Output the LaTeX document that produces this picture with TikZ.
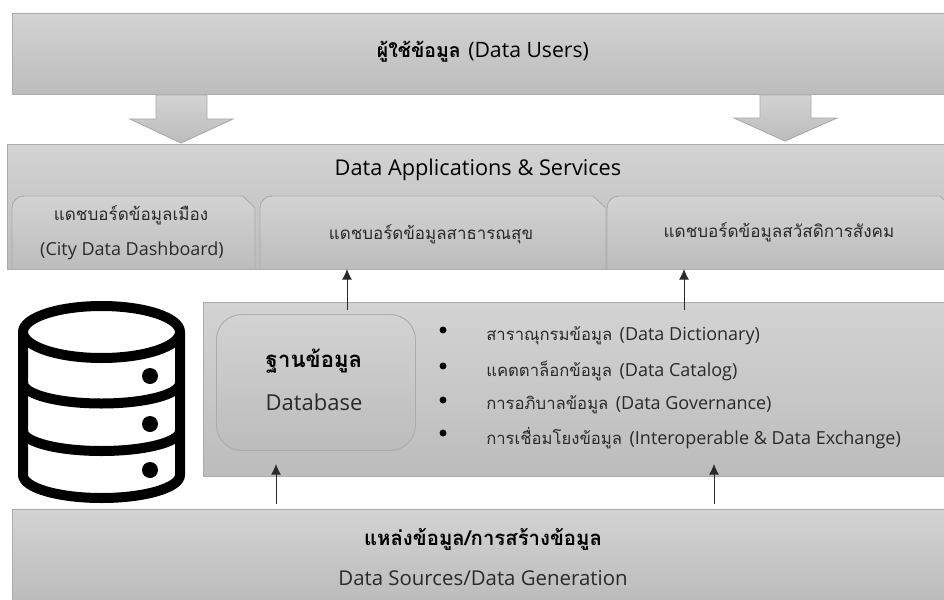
\documentclass[tikz,border=0pt]{standalone}
\usepackage{fontspec}
\setmainfont{Open Sans}
\newfontfamily\tf[Script=Thai]{Loma}
\usetikzlibrary{arrows.meta}
\definecolor{gtop}{HTML}{D3D3D3}
\definecolor{gbot}{HTML}{BCBCBC}
\definecolor{edge}{HTML}{ABABAB}
\definecolor{ink}{HTML}{2A2A2A}
\newcommand{\sz}[1]{\fontsize{#1}{#1}\selectfont}
\tikzset{
  x=0.75pt,y=-0.75pt,
  panel/.style={draw=edge,line width=0.7pt,top color=gtop,bottom color=gbot},
  box/.style={panel,rectangle,inner sep=0pt,anchor=north west},
  label/.style={text=ink,inner sep=0pt,align=center},
  head/.style={text=black,inner sep=0pt},
  itemtext/.style={text=ink,inner sep=0pt,anchor=west},
  bulletdot/.style={circle,fill=black,draw=none,minimum size=5.2pt,inner sep=0pt},
  link/.style={draw=ink,line width=0.7pt,-{Latex[length=8pt,width=7.5pt]}},
  iconline/.style={draw=black,line width=7.5pt,line join=round},
}
\begin{document}
\begin{tikzpicture}
\useasboundingbox (0,0) rectangle (944,599);
% top
\node[box,minimum width=933*0.75pt,minimum height=81*0.75pt] (users) at (12,13) {};
\node[head] (userstext) at (483,52) {{\tf\bfseries\sz{14.6}ผู้ใช้ข้อมูล}\hspace{3pt} \sz{15.9}(Data Users)};
% block arrows
\draw[panel] (156,95) -- (207,95) -- (207,119) -- (233,119) -- (181,143) -- (130,119) -- (156,119) -- cycle;
\draw[panel] (760,95) -- (811,95) -- (811,118) -- (837,118) -- (785,141) -- (734,118) -- (760,118) -- cycle;
% apps
\node[box,minimum width=938*0.75pt,minimum height=125*0.75pt] (apps) at (7,144) {};
\node[head,font=\sz{16.3}] (appstext) at (478,170) {Data Applications \& Services};
\draw[panel] (12,269) -- (12,208) arc[start angle=180,end angle=270,x radius=12,y radius=12] -- (243,196) -- (255,208) -- (255,269);
\draw[panel] (260,269) -- (260,208) arc[start angle=180,end angle=270,x radius=12,y radius=12] -- (593,196) -- (606,208) -- (606,269);
\draw[panel] (607,269) -- (607,208) arc[start angle=180,end angle=270,x radius=12,y radius=12] -- (940,196) -- (946,202) -- (946,269);
\node[label,font=\sz{12.8}] (dash1a) at (131,215) {{\tf แดชบอร์ดข้อมูลเมือง}};
\node[label,font=\sz{13.5}] (dash1b) at (132,251) {(City Data Dashboard)};
\node[label,font=\sz{12.7}] (dash2) at (431,234) {{\tf แดชบอร์ดข้อมูลสาธารณสุข}};
\node[label,font=\sz{12.8}] (dash3) at (779,232) {{\tf แดชบอร์ดข้อมูลสวัสดิการสังคม}};
% middle
\node[box,minimum width=742*0.75pt,minimum height=174*0.75pt] (mid) at (203,302) {};
\node[box,rounded corners=19pt,minimum width=199*0.75pt,minimum height=136*0.75pt] (db) at (216,314) {};
\node[head,font=\sz{16.6}] (dbth) at (314,361) {{\tf\bfseries ฐานข้อมูล}};
\node[label,font=\sz{16.5}] (dben) at (314,402) {Database};
\node[bulletdot] (b1) at (443,330) {};
\node[bulletdot] (b2) at (443,366) {};
\node[bulletdot] (b3) at (443,400) {};
\node[bulletdot] (b4) at (443,433) {};
\node[itemtext] (i1) at (486,336) {{\tf\sz{12.5}สาราณุกรมข้อมูล}\hspace{3pt} \sz{13.5}(Data Dictionary)};
\node[itemtext] (i2) at (486,371) {{\tf\sz{12.5}แคตตาล็อกข้อมูล}\hspace{3pt} \sz{13.5}(Data Catalog)};
\node[itemtext] (i3) at (486,405) {{\tf\sz{12.5}การอภิบาลข้อมูล}\hspace{3pt} \sz{13.5}(Data Governance)};
\node[itemtext] (i4) at (486,438) {{\tf\sz{12.5}การเชื่อมโยงข้อมูล}\hspace{3pt} \sz{13.5}(Interoperable \& Data Exchange)};
% bottom
\node[box,minimum width=933*0.75pt,minimum height=91*0.75pt] (src) at (12,509) {};
\node[head,font=\sz{15.25}] (srcth) at (483,539) {{\tf\bfseries แหล่งข้อมูล/การสร้างข้อมูล}};
\node[label,font=\sz{15.3}] (srcen) at (483,578) {Data Sources/Data Generation};
% connectors
\coordinate (c1s) at (347,310); \coordinate (c1e) at (347,269);
\coordinate (c2s) at (684,310); \coordinate (c2e) at (684,269);
\coordinate (c3s) at (276,504); \coordinate (c3e) at (276,464);
\coordinate (c4s) at (714,504); \coordinate (c4e) at (714,464);
\draw[link] (c1s) -- (c1e);
\draw[link] (c2s) -- (c2e);
\draw[link] (c3s) -- (c3e);
\draw[link] (c4s) -- (c4e);
% database icon
\draw[iconline,fill=white] (23,332) -- (23,475) arc[start angle=180,end angle=0,x radius=78.5,y radius=23] -- (180,332);
\draw[iconline] (23,383) arc[start angle=180,end angle=0,x radius=78.5,y radius=20.5];
\draw[iconline] (23,431) arc[start angle=180,end angle=0,x radius=78.5,y radius=20];
\draw[iconline,fill=white] (101.5,332) ellipse[x radius=78.5,y radius=26];
\fill (150,376) circle[radius=8];
\fill (150,424) circle[radius=8];
\fill (150,470) circle[radius=8];
\end{tikzpicture}
\end{document}
